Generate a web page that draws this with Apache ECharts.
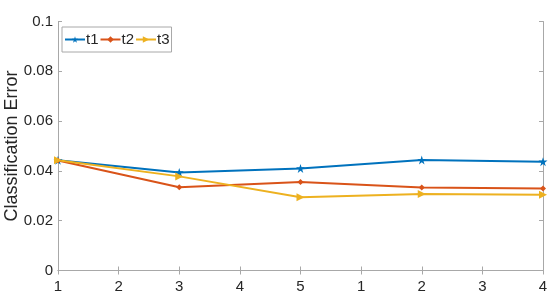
<!DOCTYPE html>
<html>
<head>
<meta charset="utf-8">
<script src="https://cdn.jsdelivr.net/npm/echarts@6/dist/echarts.min.js"></script>
<style>html,body{margin:0;padding:0;background:#fff;}#c{width:548px;height:308px;}</style>
</head>
<body>
<div id="c"></div>
<script>
var categories = ['1','2','3','4','5','1','2','3','4'];
var t1 = [0.0443, null, 0.0394, null, 0.0410, null, 0.0444, null, 0.0437];
var t2 = [0.0442, null, 0.0334, null, 0.0355, null, 0.0333, null, 0.0329];
var t3 = [0.0443, null, 0.0378, null, 0.0294, null, 0.0307, null, 0.0304];
var yTicks = [0, 0.02, 0.04, 0.06, 0.08, 0.1];

var axisColor = '#a8a8a8';
var textColor = '#262626';
var font = 'Liberation Sans, Arial, Helvetica, sans-serif';
var star = 'path://M100,0 L122.45,69.1 L195.1,69.1 L136.3,111.8 L158.8,180.9 L100,138.2 L41.2,180.9 L63.7,111.8 L4.9,69.1 L77.55,69.1 Z';

var chart = echarts.init(document.getElementById('c'), null, {renderer: 'canvas'});
function mk(name, data, color, symbol, size, rot) {
  return {
    name: name, type: 'line', data: data, connectNulls: true,
    symbol: symbol, symbolSize: size, symbolRotate: rot || 0,
    showSymbol: true, animation: false,
    lineStyle: {color: color, width: 2},
    itemStyle: {color: color, borderWidth: 0},
    emphasis: {disabled: true}
  };
}
chart.setOption({
  animation: false,
  textStyle: {fontFamily: font},
  grid: {left: 58, right: 5, top: 21.5, bottom: 37.5, show: false, containLabel: false, outerBoundsMode: 'none'},
  legend: {
    left: 62, top: 27, orient: 'horizontal',
    itemWidth: 20, itemHeight: 8, itemGap: 1,
    padding: [5, 2, 5, 2],
    borderColor: '#a8a8a8', borderWidth: 1, backgroundColor: '#fff',
    textStyle: {fontSize: 15, color: textColor, fontFamily: font, padding: [0, 0, 0, -4]},
    data: ['t1', 't2', 't3']
  },
  xAxis: [{
    type: 'category', data: categories, boundaryGap: false,
    axisLine: {lineStyle: {color: axisColor, width: 1}},
    axisTick: {inside: true, length: 4, lineStyle: {color: axisColor}, alignWithLabel: true},
    axisLabel: {color: textColor, fontSize: 15, margin: 9, fontFamily: font},
    splitLine: {show: false}
  }, {
    type: 'category', data: categories, boundaryGap: false, position: 'top',
    axisLine: {lineStyle: {color: axisColor, width: 1}},
    axisTick: {inside: true, length: 4, lineStyle: {color: axisColor}},
    axisLabel: {show: false}, splitLine: {show: false}
  }],
  yAxis: [{
    type: 'value', min: yTicks[0], max: yTicks[yTicks.length - 1], interval: 0.02,
    name: 'Classification Error', nameLocation: 'middle', nameGap: 37, nameRotate: 90,
    nameMoveOverlap: false,
    nameTextStyle: {fontSize: 18, color: textColor, fontFamily: font},
    axisLine: {show: true, lineStyle: {color: axisColor, width: 1}},
    axisTick: {show: true, inside: true, length: 4, lineStyle: {color: axisColor}},
    axisLabel: {color: textColor, fontSize: 15, margin: 5, fontFamily: font,
      formatter: function (v) { return String(Math.round(v * 100) / 100); }},
    splitLine: {show: false}
  }, {
    type: 'value', min: yTicks[0], max: yTicks[yTicks.length - 1], interval: 0.02, position: 'right',
    axisLine: {show: true, lineStyle: {color: axisColor, width: 1}},
    axisTick: {show: true, inside: true, length: 4, lineStyle: {color: axisColor}},
    axisLabel: {show: false}, splitLine: {show: false}
  }],
  series: [
    mk('t1', t1, '#0072BD', star, 9),
    mk('t2', t2, '#D95319', 'diamond', 6),
    mk('t3', t3, '#EDB120', 'triangle', 8, -90)
  ]
});
</script>
</body>
</html>
